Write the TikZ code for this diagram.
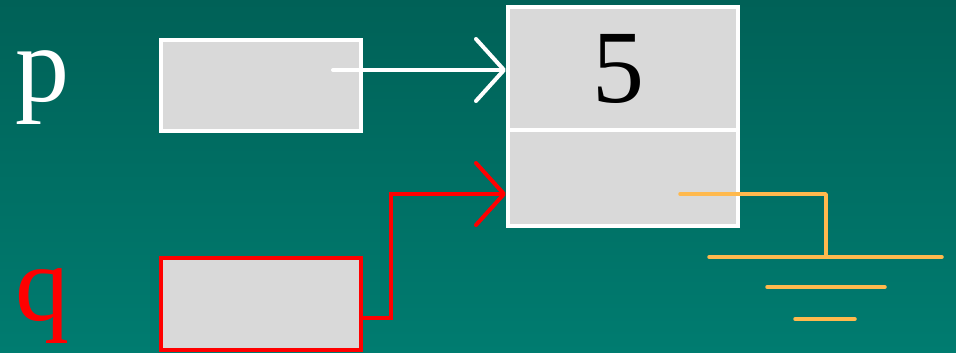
\documentclass[tikz,border=0pt]{standalone}
\usepackage{fontspec}
\setmainfont{Liberation Serif}
\usetikzlibrary{arrows.meta}

\definecolor{bgtop}{RGB}{0,97,87}
\definecolor{bgbottom}{RGB}{0,124,112}
\definecolor{cellfill}{RGB}{217,217,217}
\definecolor{groundcol}{RGB}{255,185,77}
\definecolor{ptrred}{RGB}{255,0,0}

\tikzset{
  cell/.style={draw=white, fill=cellfill, line width=4pt, rectangle,
               inner sep=0pt, minimum width=#1},
  varlabel/.style={font=\fontsize{108}{108}\selectfont, inner sep=0pt, anchor=base west},
  pointer/.style={line width=4pt, line cap=round,
                  -{Straight Barb[length=28pt,width=62pt,line cap=round,line join=round]}},
  ground/.style={draw=groundcol, line width=3.5pt, line cap=round},
}

\begin{document}
\begin{tikzpicture}[x=1pt, y=-1pt]
  % backdrop
  \shade[top color=bgtop, bottom color=bgbottom] (0,0) rectangle (956,353);
  \useasboundingbox (0,0) rectangle (956,353);

  % variable names
  \node[varlabel, text=white] (plabel) at (15,101) {p};
  \node[varlabel, text=ptrred] (qlabel) at (15,320) {q};

  % pointer cells
  \node[cell=200pt, minimum height=91pt] (p) at (261,85.5) {};
  \node[cell=200pt, minimum height=92pt, draw=ptrred] (q) at (261,304) {};

  % list node: data field and next field
  \node[cell=230pt, minimum height=123pt, font=\fontsize{104}{104}\selectfont]
    (data) at (623,68.5) {\hspace*{-9pt}5};
  \node[cell=230pt, minimum height=96pt] (next) at (623,178) {};

  % p points to the node
  \coordinate (pstart) at (333,70);
  \draw[pointer, draw=white] (pstart) -- (pstart -| data.west);

  % q points to the node as well
  \coordinate (qexit) at ([yshift=-14pt]q.east);
  \coordinate (qbend) at (391,0);
  \coordinate (qin) at ([yshift=-16pt]next.west);
  \draw[pointer, draw=ptrred, line cap=butt, line join=miter]
    (qexit) -- (qexit -| qbend) |- (qin);

  % null link drawn as a ground symbol
  \coordinate (gstart) at (680,194);
  \coordinate (gnd) at (826,257);
  \draw[ground, line join=round] (gstart) -| (gnd);
  \draw[ground] (709,257) -- (942,257);
  \draw[ground] (767,287) -- (885,287);
  \draw[ground] (795,319) -- (855,319);
\end{tikzpicture}
\end{document}
